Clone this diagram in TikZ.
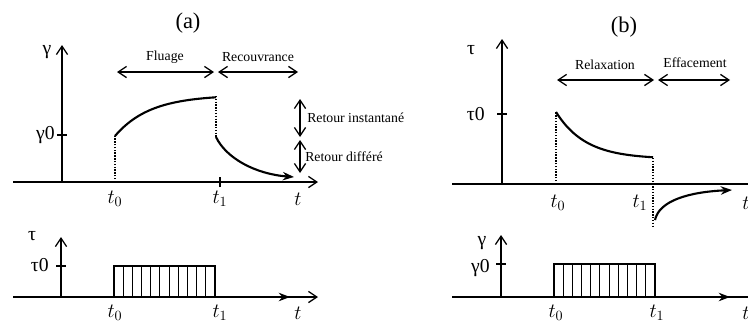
\documentclass[tikz,border=0pt]{standalone}
\usepackage{fontspec}
\setmainfont{Liberation Serif}
\usepackage{tikz}
\usetikzlibrary{arrows.meta}
\tikzset{axe/.style = {line width=0.9pt, -{Straight Barb[length=6pt,width=8pt]}}}
\tikzset{graphe/.style = {line width=1.5pt}}
\tikzset{plage/.style = {line width=0.9pt, {Straight Barb[length=6pt,width=8pt]}-{Straight Barb[length=6pt,width=8pt]}}}
\tikzset{pointille/.style = {line width=1pt, dash pattern=on 1pt off 1pt}}
\tikzset{fleche/.style = {graphe, -{Stealth[length=8pt,width=6pt]}}}
\tikzset{hachure/.style = {line width=0.8pt}}
\tikzset{lbl/.style = {font=\fontsize{9.8}{11}\selectfont, inner sep=0}}
\tikzset{temps/.style = {font=\fontsize{14}{16}\selectfont, inner sep=0}}
\tikzset{grec/.style = {font=\fontsize{14}{16}\selectfont, inner sep=0}}
\tikzset{titre/.style = {font=\fontsize{16}{18}\selectfont, inner sep=0}}

\begin{document}
\begin{tikzpicture}[x=0.025cm, y=0.025cm]
      \useasboundingbox (0,0) rectangle (748,325);
      \clip (0,0) rectangle (748,325);

      \node[titre] (titreA) at (188,302) {(a)};
      \draw[graphe] (13,143) -- (115,143);
      \draw[axe] (13,143) -- (318,143);
      \draw[axe] (62,143) -- (62,280);
      \draw[line width=0.9pt] (57,190) -- (67,190);
      \draw[line width=0.9pt] (220,138) -- (220,148);
      \node[grec] (gammaA) at (47,273) {γ};
      \node[grec, anchor=east] (gammaZeroA) at (55,190) {γ0};
      \draw[pointille] (115,143) -- (115,189);
      \draw[graphe] plot[domain=115:216, samples=40] (\x, {189+41*(1-exp(-(\x-115)/35))});
      \draw[pointille] (216,229) -- (216,188);
      \draw[fleche] (216,188) .. controls (226,167) and (255,151) .. (294,148);
      \node[temps] (tZeroA) at (115,126) {$t_0$};
      \node[temps] (tUnA) at (220,126) {$t_1$};
      \node[temps] (tA) at (298,126) {$t$};
      \draw[plage] (117,253) -- (214,253);
      \draw[plage] (218,253) -- (298,253);
      \node[lbl] (fluage) at (165,268) {Fluage};
      \node[lbl] (recouvrance) at (258,268) {Recouvrance};
      \draw[plage] (300,226) -- (300,188);
      \draw[plage] (300,185) -- (300,152);
      \node[lbl, anchor=west] (instantane) at (307,207) {Retour instantané};
      \node[lbl, anchor=west] (differe) at (305,168) {Retour différé};

      \draw[fleche] (13,28) -- (290,28);
      \draw[axe] (13,28) -- (318,28);
      \draw[axe] (61,28) -- (61,88);
      \draw[line width=0.9pt] (56,59) -- (66,59);
      \node[grec] (tauA) at (32,89) {τ};
      \node[grec, anchor=east] (tauZeroA) at (49,60) {τ0};
      \draw[line width=1pt] (114,28) rectangle (215,59);
      \foreach \i in {1,...,10}
        \draw[hachure] ({114+\i*101/11},28) -- ++(0,31);
      \node[temps] (tZeroA2) at (115,12) {$t_0$};
      \node[temps] (tUnA2) at (220,12) {$t_1$};
      \node[temps] (tA2) at (298,12) {$t$};

      \node[titre] (titreB) at (624,298) {(b)};
      \draw[graphe] (452,141) -- (556,141);
      \draw[axe] (452,141) -- (758,141);
      \draw[axe] (502,141) -- (502,286);
      \draw[line width=0.9pt] (497,211) -- (507,211);
      \node[grec] (tauB) at (471,275) {τ};
      \node[grec, anchor=east] (tauZeroB) at (485,211) {τ0};
      \draw[pointille] (556,141) -- (556,213);
      \draw[graphe] plot[domain=556:653, samples=40] (\x, {166+47*exp(-(\x-556)/29.5)});
      \draw[pointille] (653,167) -- (653,97);
      \draw[fleche] (655,105) .. controls (659,124) and (688,133) .. (732,135);
      \node[temps] (tZeroB) at (558,122) {$t_0$};
      \node[temps] (tUnB) at (640,122) {$t_1$};
      \node[temps, anchor=west] (tB) at (742,122) {$t$};
      \draw[plage] (557,245) -- (654,245);
      \draw[plage] (658,245) -- (730,245);
      \node[lbl] (relaxation) at (605,260) {Relaxation};
      \node[lbl] (effacement) at (695,262) {Effacement};

      \draw[fleche] (452,28) -- (730,28);
      \draw[axe] (452,28) -- (758,28);
      \draw[axe] (501,28) -- (501,90);
      \draw[line width=0.9pt] (496,61) -- (506,61);
      \node[grec] (gammaB) at (482,82) {γ};
      \node[grec, anchor=east] (gammaZeroB) at (490,57) {γ0};
      \draw[line width=1pt] (554,28) rectangle (655,61);
      \foreach \i in {1,...,10}
        \draw[hachure] ({554+\i*101/11},28) -- ++(0,33);
      \node[temps] (tZeroB2) at (556,12) {$t_0$};
      \node[temps] (tUnB2) at (657,12) {$t_1$};
      \node[temps, anchor=west] (tB2) at (742,12) {$t$};
\end{tikzpicture}
\end{document}
